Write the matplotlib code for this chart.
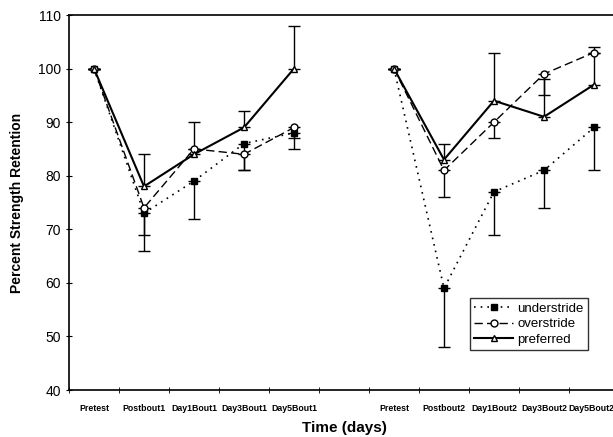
import matplotlib.pyplot as plt
import matplotlib.transforms as mtransforms
import numpy as np

plt.rcParams['font.family'] = ['Liberation Sans', 'DejaVu Sans']

labels = ["Pretest", "Postbout1", "Day1Bout1", "Day3Bout1", "Day5Bout1",
          "Pretest", "Postbout2", "Day1Bout2", "Day3Bout2", "Day5Bout2"]
pos = [0, 1, 2, 3, 4, 6, 7, 8, 9, 10]

understride = [100, 73, 79, 86, 88, 100, 59, 77, 81, 89]
overstride = [100, 74, 85, 84, 89, 100, 81, 90, 99, 103]
preferred = [100, 78, 84, 89, 100, 100, 83, 94, 91, 97]

# one-sided error bars
under_err_lo = [0, 4, 7, 5, 3, 0, 11, 8, 7, 8]
over_err_lo = [0, 8, 0, 3, 2, 0, 5, 3, 4, 0]
pref_err_hi = [0, 6, 6, 3, 8, 0, 3, 9, 7, 7]

fig = plt.figure(figsize=(6.13, 4.37), dpi=100)
ax = fig.add_axes([69 / 613, 1 - 390 / 437, 550 / 613, 375 / 437])

x = np.array(pos)
series = [
    (understride, under_err_lo, "lo", dict(ls=(0, (1, 3)), lw=1.2, marker="s",
                                             mfc="black", ms=4.5), "understride"),
    (overstride, over_err_lo, "lo", dict(ls=(0, (6, 3)), lw=1.0, marker="o",
                                          mfc="white", ms=5), "overstride"),
    (preferred, pref_err_hi, "hi", dict(ls="-", lw=1.5, marker="^",
                                         mfc="white", ms=5), "preferred"),
]

for vals, err, side, style, name in series:
    v = np.array(vals, dtype=float)
    e = np.array(err, dtype=float)
    yerr = [e, np.zeros_like(e)] if side == "lo" else [np.zeros_like(e), e]
    ax.errorbar(x, v, yerr=yerr, fmt="none", ecolor="black", elinewidth=1.0,
                capsize=4, capthick=1.0, zorder=2)
    for i, (a, b) in enumerate([(0, 5), (5, 10)]):
        ax.plot(x[a:b], v[a:b], color="black", mec="black", mew=1.0,
                label=name if i == 0 else None, zorder=3, **style)

ax.set_xlim(-0.5, 10.5)
ax.set_ylim(40, 110)
ax.set_yticks(range(40, 111, 10))
ax.set_xticks(pos)
ax.set_xticklabels(labels, fontsize=6.3, fontweight="bold")
ax.set_xticks(np.arange(-0.5, 10.6, 1), minor=True)
ax.tick_params(axis="x", which="major", length=0, pad=10)
ax.tick_params(axis="x", which="minor", length=4, direction="inout")
ax.tick_params(axis="y", length=5, direction="inout", labelsize=10)
ax.spines["right"].set_visible(False)
for s in ax.spines.values():
    s.set_linewidth(1.2)

# last label sits right at the figure edge; nudge it inward a little
last = ax.get_xticklabels()[-1]
last.set_transform(last.get_transform() +
                   mtransforms.ScaledTranslation(-3 / 100, 0, fig.dpi_scale_trans))

ax.set_xlabel("Time (days)", fontsize=11, fontweight="bold", labelpad=6)
ax.set_ylabel("Percent Strength Retention", fontsize=10, fontweight="bold",
              labelpad=10)

leg = ax.legend(loc="lower right", bbox_to_anchor=(0.955, 0.09), fontsize=9.5,
                frameon=True, fancybox=False, edgecolor="black",
                handlelength=3.0, handletextpad=0.3, borderpad=0.3,
                labelspacing=0.25)
leg.get_frame().set_linewidth(1.0)

fig.savefig("out.png", dpi=100)
